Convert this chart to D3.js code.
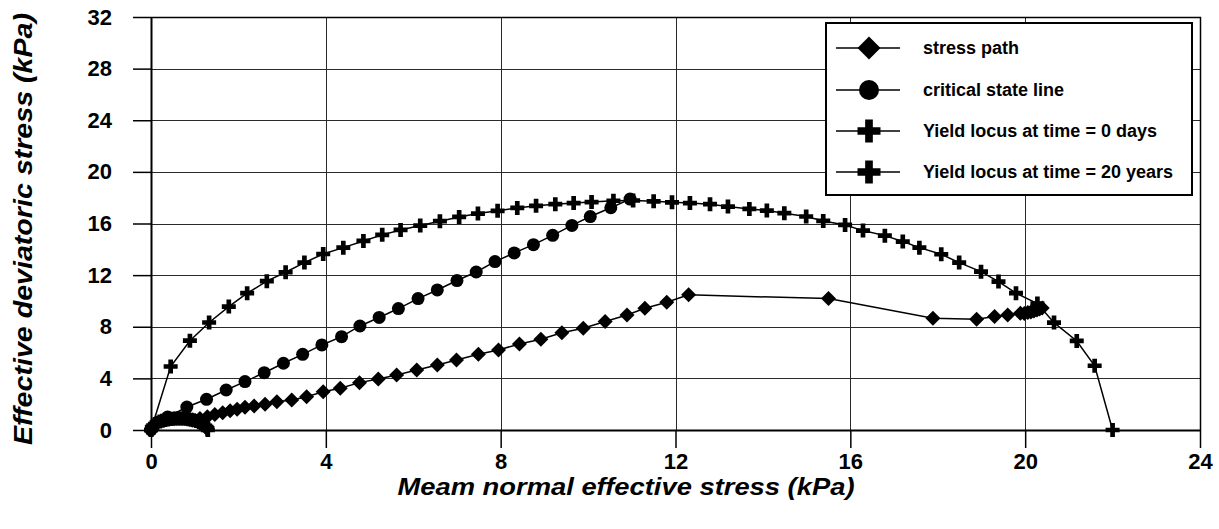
<!DOCTYPE html>
<html>
<head>
<meta charset="utf-8">
<script src="https://cdn.jsdelivr.net/npm/d3@7"></script>
<style>
  html, body { margin: 0; padding: 0; background: #fff; }
  svg { display: block; font-family: "Liberation Sans", Arial, sans-serif; }
</style>
</head>
<body>
<svg id="chart" width="1219" height="529"></svg>
<script>
// Axis ticks
const xTicks = [0, 4, 8, 12, 16, 20, 24];
const yTicks = [0, 4, 8, 12, 16, 20, 24, 28, 32];

// Stress path (p', q) in kPa
const pathP = [0.95, 1.12, 1.29, 1.46, 1.64, 1.81, 1.97, 2.15, 2.36, 2.61, 2.88, 3.22, 3.56, 3.94, 4.33,
  4.77, 5.2, 5.62, 6.08, 6.55, 6.99, 7.49, 7.95, 8.43, 8.92, 9.4, 9.89, 10.39, 10.89, 11.3, 11.8, 12.3,
  15.5, 17.89, 18.89, 19.3, 19.6, 19.89, 19.98, 20.06, 20.13, 20.2, 20.27, 20.33, 20.39];
const pathQ = [0.78, 0.9, 1.03, 1.21, 1.34, 1.5, 1.6, 1.76, 1.86, 1.99, 2.19, 2.33, 2.58, 2.97, 3.23,
  3.67, 3.95, 4.26, 4.65, 5.04, 5.43, 5.87, 6.2, 6.67, 7.03, 7.54, 7.88, 8.4, 8.91, 9.43, 9.9, 10.47,
  10.18, 8.66, 8.58, 8.79, 8.91, 9.04, 9.02, 9.1, 9.15, 9.22, 9.3, 9.38, 9.46];

// Critical state line
const cslP = [0, 0.38, 0.82, 1.27, 1.72, 2.15, 2.59, 3.03, 3.47, 3.91, 4.36, 4.78, 5.22, 5.66, 6.11,
  6.55, 7.0, 7.44, 7.87, 8.31, 8.75, 9.19, 9.63, 10.05, 10.52, 10.96];
const cslQ = [0, 1.0, 1.78, 2.38, 3.10, 3.75, 4.44, 5.17, 5.86, 6.59, 7.23, 8.06, 8.72, 9.41, 10.18,
  10.85, 11.58, 12.24, 13.05, 13.72, 14.36, 15.08, 15.85, 16.54, 17.22, 17.89];

// Yield locus at time = 0 days
const y0P = [0, 0.02, 0.05, 0.09, 0.14, 0.2, 0.26, 0.32, 0.38, 0.44, 0.5, 0.56, 0.62, 0.68, 0.74,
  0.8, 0.86, 0.92, 0.98, 1.04, 1.1, 1.15, 1.2, 1.24, 1.27, 1.29, 1.3];
const y0Q = [0, 0.22, 0.35, 0.46, 0.56, 0.65, 0.72, 0.78, 0.82, 0.85, 0.88, 0.89, 0.9, 0.9, 0.89,
  0.87, 0.84, 0.8, 0.75, 0.69, 0.61, 0.53, 0.43, 0.33, 0.23, 0.12, 0];

// Yield locus at time = 20 years
const y20P = [0, 0.45, 0.89, 1.33, 1.78, 2.2, 2.65, 3.08, 3.51, 3.94, 4.4, 4.86, 5.29, 5.71, 6.16,
  6.61, 7.05, 7.48, 7.93, 8.38, 8.81, 9.25, 9.67, 10.08, 10.58, 11.03, 11.5, 11.92, 12.33, 12.79,
  13.2, 13.69, 14.09, 14.49, 14.99, 15.38, 15.88, 16.29, 16.79, 17.2, 17.58, 18.08, 18.49, 18.99,
  19.39, 19.79, 20.28, 20.66, 21.18, 21.59, 22.0];
const y20Q = [0, 4.92, 6.92, 8.33, 9.56, 10.6, 11.53, 12.22, 12.97, 13.64, 14.13, 14.65, 15.12, 15.5,
  15.84, 16.18, 16.51, 16.77, 16.98, 17.21, 17.37, 17.5, 17.58, 17.66, 17.76, 17.78, 17.72, 17.64,
  17.58, 17.5, 17.31, 17.13, 17.0, 16.8, 16.54, 16.2, 15.89, 15.45, 15.06, 14.6, 14.13, 13.62, 12.97,
  12.27, 11.5, 10.6, 9.8, 8.32, 6.9, 4.98, 0];

const seriesNames = ["stress path", "critical state line", "Yield locus at time = 0 days", "Yield locus at time = 20 years"];
const seriesMarkers = ["diamond", "circle", "cross", "cross"];

const series = [
  { name: seriesNames[0], marker: seriesMarkers[0], p: pathP, q: pathQ },
  { name: seriesNames[1], marker: seriesMarkers[1], p: cslP, q: cslQ },
  { name: seriesNames[2], marker: seriesMarkers[2], p: y0P, q: y0Q },
  { name: seriesNames[3], marker: seriesMarkers[3], p: y20P, q: y20Q }
];

const svg = d3.select("#chart");
const plotLeft = 151, plotRight = 1200, plotTop = 17, plotBottom = 430;

const x = d3.scaleLinear().domain([0, 24]).range([plotLeft, plotRight]);
const y = d3.scaleLinear().domain([0, 32]).range([plotBottom, plotTop]);

// Marker shapes; s is the overall width in px
function markerPath(type, s) {
  const h = s / 2;
  if (type === "diamond") {
    return `M0,${-h}L${h},0L0,${h}L${-h},0Z`;
  }
  if (type === "circle") {
    return d3.symbol(d3.symbolCircle, Math.PI * h * h)();
  }
  const t = s / 6;
  return `M${-t},${-h}H${t}V${-t}H${h}V${t}H${t}V${h}H${-t}V${t}H${-h}V${-t}H${-t}Z`;
}
const markerSize = { diamond: 15, circle: 13, cross: 14 };
const legendSize = { diamond: 23, circle: 20, cross: 23 };

// Gridlines
const grid = svg.append("g").attr("shape-rendering", "crispEdges");
grid.selectAll("line.h").data(yTicks.slice(1)).join("line")
  .attr("x1", plotLeft).attr("x2", plotRight)
  .attr("y1", d => Math.round(y(d)) + 0.5).attr("y2", d => Math.round(y(d)) + 0.5)
  .attr("stroke", "#2a2a2a").attr("stroke-width", 1);
grid.selectAll("line.v").data(xTicks.slice(1)).join("line")
  .attr("y1", plotTop).attr("y2", plotBottom)
  .attr("x1", d => Math.round(x(d)) + 0.5).attr("x2", d => Math.round(x(d)) + 0.5)
  .attr("stroke", "#2a2a2a").attr("stroke-width", 1);

// Plot frame (top and right)
svg.append("path")
  .attr("d", `M${plotLeft},${plotTop + 0.5}H${plotRight + 0.5}V${plotBottom}`)
  .attr("fill", "none").attr("stroke", "#000").attr("stroke-width", 1.5);

// Axes
const yAxis = svg.append("g").attr("transform", `translate(${plotLeft},0)`)
  .call(d3.axisLeft(y).tickValues(yTicks).tickFormat(d3.format("d")).tickSize(18).tickPadding(21));
const xAxis = svg.append("g").attr("transform", `translate(0,${plotBottom})`)
  .call(d3.axisBottom(x).tickValues(xTicks).tickFormat(d3.format("d")).tickSize(18).tickPadding(5));

[yAxis, xAxis].forEach(g => {
  g.select(".domain").attr("stroke", "#000").attr("stroke-width", 2);
  g.selectAll(".tick line").attr("stroke", "#000").attr("stroke-width", 1.5);
  g.selectAll(".tick text")
    .attr("fill", "#000")
    .style("font-family", "'Liberation Sans', Arial, sans-serif")
    .style("font-size", "22px").style("font-weight", "bold");
});
yAxis.select(".domain").attr("d", `M0.5,${plotBottom}V${plotTop}`);
xAxis.select(".domain").attr("d", `M${plotLeft},0.5H${plotRight}`);

// Series
const line = d3.line().x(d => x(d[0])).y(d => y(d[1]));
const plot = svg.append("g");
series.forEach(s => {
  const pts = s.p.map((p, i) => [p, s.q[i]]);
  const g = plot.append("g");
  g.append("path").attr("d", line(pts))
    .attr("fill", "none").attr("stroke", "#000").attr("stroke-width", 1.5);
  g.selectAll("path.m").data(pts).join("path")
    .attr("class", "m")
    .attr("transform", d => `translate(${x(d[0])},${y(d[1])})`)
    .attr("d", markerPath(s.marker, markerSize[s.marker]))
    .attr("fill", "#000");
});

// Legend
const legend = svg.append("g");
legend.append("rect")
  .attr("x", 826).attr("y", 23).attr("width", 366).attr("height", 172)
  .attr("fill", "#fff").attr("stroke", "#000").attr("stroke-width", 2);
const rowY = [48, 90, 131, 172];
series.forEach((s, i) => {
  const gy = rowY[i];
  legend.append("line").attr("x1", 836).attr("x2", 900).attr("y1", gy).attr("y2", gy)
    .attr("stroke", "#000").attr("stroke-width", 1.5);
  legend.append("path").attr("transform", `translate(869,${gy})`)
    .attr("d", markerPath(s.marker, legendSize[s.marker])).attr("fill", "#000");
  legend.append("text").attr("x", 923).attr("y", gy).attr("dy", "0.35em")
    .style("font-size", "18px").style("font-weight", "bold").text(s.name);
});

// Axis titles
svg.append("text")
  .attr("transform", "translate(32,229) rotate(-90)")
  .attr("text-anchor", "middle")
  .attr("textLength", 432).attr("lengthAdjust", "spacingAndGlyphs")
  .style("font-size", "26px").style("font-weight", "bold").style("font-style", "italic")
  .text("Effective deviatoric stress (kPa)");
svg.append("text")
  .attr("x", 626).attr("y", 495)
  .attr("text-anchor", "middle")
  .attr("textLength", 457).attr("lengthAdjust", "spacingAndGlyphs")
  .style("font-size", "23px").style("font-weight", "bold").style("font-style", "italic")
  .text("Meam normal effective stress (kPa)");
</script>
</body>
</html>
